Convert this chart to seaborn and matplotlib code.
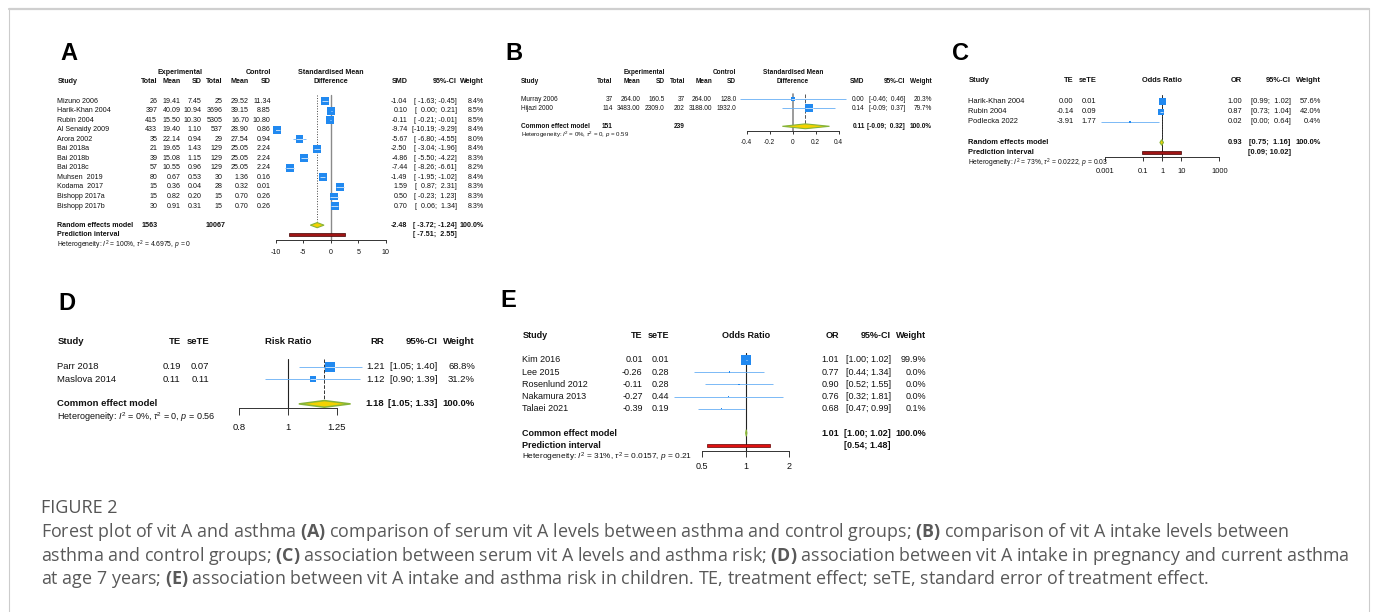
import numpy as np
import matplotlib
matplotlib.use("Agg")
import matplotlib.pyplot as plt
import matplotlib.transforms as mtransforms
from matplotlib.lines import Line2D
from matplotlib.patches import Polygon, Rectangle
from matplotlib.ticker import NullLocator
import seaborn as sns

# ---------------------------
# Data: panel A (serum vit A, SMD)
# ---------------------------
a_study = ["Mizuno 2006", "Harik-Khan 2004", "Rubin 2004", "Al Senaidy 2009", "Arora 2002",
           "Bai 2018a", "Bai 2018b", "Bai 2018c", "Muhsen  2019", "Kodama  2017",
           "Bishopp 2017a", "Bishopp 2017b"]
a_e_total = [26, 397, 415, 433, 35, 21, 39, 57, 80, 15, 15, 30]
a_e_mean = [19.41, 40.09, 15.50, 19.40, 22.14, 19.65, 15.08, 10.55, 0.67, 0.36, 0.82, 0.91]
a_e_sd = [7.45, 10.94, 10.30, 1.10, 0.94, 1.43, 1.15, 0.96, 0.53, 0.04, 0.20, 0.31]
a_c_total = [25, 3696, 5305, 537, 29, 129, 129, 129, 30, 28, 15, 15]
a_c_mean = [29.52, 39.15, 16.70, 28.90, 27.54, 25.05, 25.05, 25.05, 1.36, 0.32, 0.70, 0.70]
a_c_sd = [11.34, 8.85, 10.80, 0.86, 0.94, 2.24, 2.24, 2.24, 0.16, 0.01, 0.26, 0.26]
a_smd = [-1.04, 0.10, -0.11, -9.74, -5.67, -2.50, -4.86, -7.44, -1.49, 1.59, 0.50, 0.70]
a_lo = [-1.63, 0.00, -0.21, -10.19, -6.80, -3.04, -5.50, -8.26, -1.95, 0.87, -0.23, 0.06]
a_hi = [-0.45, 0.21, -0.01, -9.29, -4.55, -1.96, -4.22, -6.61, -1.02, 2.31, 1.23, 1.34]
a_w = [8.4, 8.5, 8.5, 8.4, 8.0, 8.4, 8.3, 8.2, 8.4, 8.3, 8.3, 8.3]
a_sum = [-2.48, -3.72, -1.24]
a_pred = [-7.51, 2.55]
a_tot = [1563, 10067]
a_het = r"Heterogeneity: $I^2$ = 100%, $\tau^2$ = 4.6975, $p$ = 0"
a_ticks = [-10, -5, 0, 5, 10]

# panel B (vit A intake, SMD)
b_study = ["Murray 2006", "Hijazi 2000"]
b_e_total = [37, 114]
b_e_mean = [264.00, 3483.00]
b_e_sd = [160.5, 2309.0]
b_c_total = [37, 202]
b_c_mean = [264.00, 3188.00]
b_c_sd = [128.0, 1932.0]
b_smd = [0.00, 0.14]
b_lo = [-0.46, -0.09]
b_hi = [0.46, 0.37]
b_w = [20.3, 79.7]
b_sum = [0.11, -0.09, 0.32]
b_tot = [151, 239]
b_het = r"Heterogeneity: $I^2$ = 0%, $\tau^2$ = 0, $p$ = 0.59"
b_ticks = [-0.4, -0.2, 0, 0.2, 0.4]

# panel C (serum vit A, OR)
c_study = ["Harik-Khan 2004", "Rubin 2004", "Podlecka 2022"]
c_te = [0.00, -0.14, -3.91]
c_sete = [0.01, 0.09, 1.77]
c_or = [1.00, 0.87, 0.02]
c_lo = [0.99, 0.73, 0.0006]
c_hi = [1.02, 1.04, 0.64]
c_w = [57.6, 42.0, 0.4]
c_sum = [0.93, 0.75, 1.16]
c_pred = [0.09, 10.02]
c_het = r"Heterogeneity: $I^2$ = 73%, $\tau^2$ = 0.0222, $p$ = 0.03"
c_ticks = [0.001, 0.1, 1, 10, 1000]
c_ticklabels = ["0.001", "0.1", "1", "10", "1000"]

# panel D (intake in pregnancy, RR)
d_study = ["Parr 2018", "Maslova 2014"]
d_te = [0.19, 0.11]
d_sete = [0.07, 0.11]
d_rr = [1.21, 1.12]
d_lo = [1.05, 0.90]
d_hi = [1.40, 1.39]
d_w = [68.8, 31.2]
d_sum = [1.18, 1.05, 1.33]
d_het = r"Heterogeneity: $I^2$ = 0%, $\tau^2$ = 0, $p$ = 0.56"
d_ticks = [0.8, 1, 1.25]
d_ticklabels = ["0.8", "1", "1.25"]

# panel E (intake in children, OR)
e_study = ["Kim 2016", "Lee 2015", "Rosenlund 2012", "Nakamura 2013", "Talaei 2021"]
e_te = [0.01, -0.26, -0.11, -0.27, -0.39]
e_sete = [0.01, 0.28, 0.28, 0.44, 0.19]
e_or = [1.01, 0.77, 0.90, 0.76, 0.68]
e_lo = [1.00, 0.44, 0.52, 0.32, 0.47]
e_hi = [1.02, 1.34, 1.55, 1.81, 0.99]
e_w = [99.9, 0.0, 0.0, 0.0, 0.1]
e_sum = [1.01, 1.00, 1.02]
e_pred = [0.54, 1.48]
e_het = r"Heterogeneity: $I^2$ = 31%, $\tau^2$ = 0.0157, $p$ = 0.21"
e_ticks = [0.5, 1, 2]
e_ticklabels = ["0.5", "1", "2"]

caption_head = "FIGURE 2"
caption_lines = [
    r"Forest plot of vit A and asthma $\mathbf{(A)}$ comparison of serum vit A levels between asthma and control groups; $\mathbf{(B)}$ comparison of vit A intake levels between",
    r"asthma and control groups; $\mathbf{(C)}$ association between serum vit A levels and asthma risk; $\mathbf{(D)}$ association between vit A intake in pregnancy and current asthma",
    r"at age 7 years; $\mathbf{(E)}$ association between vit A intake and asthma risk in children. TE, treatment effect; seTE, standard error of treatment effect.",
]

# ---------------------------
# Style
# ---------------------------
W, H = 1375, 612
sns.set_theme(style="white")
plt.rcParams["font.family"] = ["Liberation Sans", "DejaVu Sans"]
plt.rcParams["mathtext.fontset"] = "custom"
plt.rcParams["mathtext.rm"] = "Liberation Sans"
plt.rcParams["mathtext.it"] = "Liberation Sans:italic"
plt.rcParams["mathtext.bf"] = "Open Sans:bold"

BLUE = "#2189f0"
CI_BLUE = "#67aef5"
DIA_FC = "#f3d200"
DIA_EC = "#86b43a"

fig = plt.figure(figsize=(W / 100, H / 100), dpi=100)


def panel_axes(xl, xr, y0, dy, axis_row, lim, log=False, ticklen=3.3, pad=4.0, fs=5.0):
    top_row = -1.0
    top_px = y0 + top_row * dy
    bot_px = y0 + axis_row * dy
    ax = fig.add_axes([xl / W, 1 - bot_px / H, (xr - xl) / W, (bot_px - top_px) / H])
    ax.set_facecolor("none")
    if log:
        ax.set_xscale("log")
    ax.set_xlim(*lim)
    ax.set_ylim(axis_row, top_row)
    for s in ["left", "right", "top"]:
        ax.spines[s].set_visible(False)
    ax.spines["bottom"].set_color("#333333")
    ax.spines["bottom"].set_linewidth(0.7)
    ax.set_yticks([])
    ax.tick_params(axis="x", which="major", direction="out", bottom=True, length=ticklen * 0.72,
                   width=0.7, color="#333333", pad=pad, labelsize=fs, labelcolor="#111111")
    ax.tick_params(axis="x", which="minor", bottom=False)
    return ax


def set_ticks(ax, ticks, labels):
    ax.set_xticks(ticks)
    ax.set_xticklabels(labels)
    ax.xaxis.set_minor_locator(NullLocator())


def put(ax, xpx, row, s, fs, ha="right", bold=False):
    tr = mtransforms.blended_transform_factory(fig.transFigure, ax.transData)
    ax.text(xpx / W, row, s, transform=tr, ha=ha, va="center", fontsize=fs,
            fontweight="bold" if bold else "normal", color="#111111")


def draw_studies(ax, est, lo, hi, w, side_max, min_side=1.6):
    rows = np.arange(len(est))
    side = np.maximum(side_max * np.sqrt(np.asarray(w) / max(w)), min_side)
    area = (side * 0.72) ** 2
    ax.hlines(rows, lo, hi, color=CI_BLUE, lw=0.6, zorder=2, clip_on=False)
    sns.scatterplot(x=est, y=rows, size=area, sizes=(area.min(), area.max()),
                    size_norm=(area.min(), area.max()), marker="s", color=BLUE,
                    linewidth=0, legend=False, ax=ax, zorder=3, clip_on=False)
    inv = ax.transData.inverted()
    for r, e, l, h, s in zip(rows, est, lo, hi, side):
        if s < 3:
            continue
        px, py = ax.transData.transform((e, r))
        a = inv.transform((px - s / 2, py))[0]
        b = inv.transform((px + s / 2, py))[0]
        a, b = max(a, l), min(b, h)
        if b > a:
            ax.plot([a, b], [r, r], color="white", lw=0.5, zorder=4, solid_capstyle="butt")


def ref_lines(ax, null, summ, sum_row, axis_row, null_color, null_lw, sum_ls, sum_color):
    ax.plot([null, null], [-0.6, axis_row], color=null_color, lw=null_lw, zorder=1, clip_on=False)
    ax.plot([summ, summ], [-0.6, sum_row], color=sum_color, lw=0.7, ls=sum_ls, zorder=1, clip_on=False)


def diamond(ax, est, lo, hi, row, half=0.27, lw=0.8):
    ax.add_patch(Polygon([(lo, row), (est, row - half), (hi, row), (est, row + half)], closed=True,
                         fc=DIA_FC, ec=DIA_EC, lw=lw, zorder=5, clip_on=False))


def pred_bar(ax, lo, hi, row, h, fc, ec):
    ax.add_patch(Rectangle((lo, row - h / 2), hi - lo, h, fc=fc, ec=ec, lw=0.5, zorder=5, clip_on=False))


def ci_txt(lo, hi, wl=5, wh=5):
    return "[" + f"{lo:{wl}.2f}" + "; " + f"{hi:{wh}.2f}" + "]"


# ---------------------------
# Panel A
# ---------------------------
fs = 5.1
dy = 9.55
axA = panel_axes(275.7, 386.0, 101.0, dy, 14.55, (-10, 10), ticklen=3.3, pad=4.0, fs=fs)
set_ticks(axA, a_ticks, [str(t) for t in a_ticks])
ref_lines(axA, 0, a_sum[0], 13, 14.55, "#8a8a8a", 1.0, ":", "#444444")
draw_studies(axA, a_smd, a_lo, a_hi, a_w, 7.9)
diamond(axA, a_sum[0], a_sum[1], a_sum[2], 13)
pred_bar(axA, a_pred[0], a_pred[1], 14, 2.6 / dy, "#a01515", "#400000")
cols = [157.3, 180.7, 202.0, 222.7, 249.0, 270.7]
put(axA, 202.0, -3, "Experimental", fs, bold=True)
put(axA, 270.7, -3, "Control", fs, bold=True)
axA.text(0, -3, "Standardised Mean", ha="center", va="center", fontsize=fs, fontweight="bold", color="#111111")
axA.text(0, -2, "Difference", ha="center", va="center", fontsize=fs, fontweight="bold", color="#111111")
put(axA, 57.3, -2, "Study", fs, ha="left", bold=True)
for x, s in zip(cols, ["Total", "Mean", "SD", "Total", "Mean", "SD"]):
    put(axA, x, -2, s, fs, bold=True)
put(axA, 407.5, -2, "SMD", fs, bold=True)
put(axA, 456.7, -2, "95%-CI", fs, bold=True)
put(axA, 484.0, -2, "Weight", fs, bold=True)
for i in range(len(a_study)):
    put(axA, 57.3, i, a_study[i], fs, ha="left")
    vals = [f"{a_e_total[i]}", f"{a_e_mean[i]:.2f}", f"{a_e_sd[i]:.2f}",
            f"{a_c_total[i]}", f"{a_c_mean[i]:.2f}", f"{a_c_sd[i]:.2f}"]
    for x, s in zip(cols, vals):
        put(axA, x, i, s, fs)
    put(axA, 407.5, i, f"{a_smd[i]:.2f}", fs)
    put(axA, 456.7, i, ci_txt(a_lo[i], a_hi[i], 6, 5), fs)
    put(axA, 484.0, i, f"{a_w[i]:.1f}%", fs)
put(axA, 57.3, 13, "Random effects model", fs, ha="left", bold=True)
put(axA, cols[0], 13, f"{a_tot[0]}", fs, bold=True)
put(axA, cols[3] + 3, 13, f"{a_tot[1]}", fs, bold=True)
put(axA, 407.5, 13, f"{a_sum[0]:.2f}", fs, bold=True)
put(axA, 456.7, 13, ci_txt(a_sum[1], a_sum[2], 6, 5), fs, bold=True)
put(axA, 484.0, 13, "100.0%", fs, bold=True)
put(axA, 57.3, 14, "Prediction interval", fs, ha="left", bold=True)
put(axA, 456.7, 14, ci_txt(a_pred[0], a_pred[1], 6, 5), fs, bold=True)
put(axA, 57.3, 15.08, a_het, fs * 0.95, ha="left")

# ---------------------------
# Panel B
# ---------------------------
fs = 4.7
dy = 9.0
axB = panel_axes(746.7, 838.7, 99.3, dy, 3.52, (-0.4, 0.4), ticklen=3.0, pad=3.8, fs=fs)
set_ticks(axB, b_ticks, ["-0.4", "-0.2", "0", "0.2", "0.4"])
ref_lines(axB, 0, b_sum[0], 3, 3.52, "#8a8a8a", 1.2, "--", "#555555")
draw_studies(axB, b_smd, b_lo, b_hi, b_w, 7.7)
diamond(axB, b_sum[0], b_sum[1], b_sum[2], 3)
cols = [612.7, 640.3, 664.7, 685.0, 712.0, 736.3]
put(axB, 664.7, -3, "Experimental", fs, bold=True)
put(axB, 736.3, -3, "Control", fs, bold=True)
axB.text(0, -3, "Standardised Mean", ha="center", va="center", fontsize=fs, fontweight="bold", color="#111111")
axB.text(0, -2, "Difference", ha="center", va="center", fontsize=fs, fontweight="bold", color="#111111")
put(axB, 521.0, -2, "Study", fs, ha="left", bold=True)
for x, s in zip(cols, ["Total", "Mean", "SD", "Total", "Mean", "SD"]):
    put(axB, x, -2, s, fs, bold=True)
put(axB, 864.7, -2, "SMD", fs, bold=True)
put(axB, 905.0, -2, "95%-CI", fs, bold=True)
put(axB, 931.7, -2, "Weight", fs, bold=True)
for i in range(len(b_study)):
    put(axB, 521.0, i, b_study[i], fs, ha="left")
    vals = [f"{b_e_total[i]}", f"{b_e_mean[i]:.2f}", f"{b_e_sd[i]:.1f}",
            f"{b_c_total[i]}", f"{b_c_mean[i]:.2f}", f"{b_c_sd[i]:.1f}"]
    for x, s in zip(cols, vals):
        put(axB, x, i, s, fs)
    put(axB, 864.7, i, f"{b_smd[i]:.2f}", fs)
    put(axB, 905.0, i, ci_txt(b_lo[i], b_hi[i]), fs)
    put(axB, 931.7, i, f"{b_w[i]:.1f}%", fs)
put(axB, 521.0, 3, "Common effect model", fs, ha="left", bold=True)
put(axB, cols[0], 3, f"{b_tot[0]}", fs, bold=True)
put(axB, cols[3], 3, f"{b_tot[1]}", fs, bold=True)
put(axB, 864.7, 3, f"{b_sum[0]:.2f}", fs, bold=True)
put(axB, 905.0, 3, ci_txt(b_sum[1], b_sum[2]), fs, bold=True)
put(axB, 931.7, 3, "100.0%", fs, bold=True)
put(axB, 521.0, 4, b_het, fs * 0.95, ha="left")

# ---------------------------
# Panel C
# ---------------------------
fs = 5.4
dy = 10.3
axC = panel_axes(1105.3, 1219.3, 101.3, dy, 5.36, (0.001, 1000), log=True, ticklen=4.0, pad=5.6, fs=fs)
set_ticks(axC, c_ticks, c_ticklabels)
ref_lines(axC, 1, c_sum[0], 4, 5.36, "#222222", 0.7, ":", "#444444")
draw_studies(axC, c_or, c_lo, c_hi, c_w, 7.2)
diamond(axC, c_sum[0], c_sum[1], c_sum[2], 4)
pred_bar(axC, c_pred[0], c_pred[1], 5, 2.8 / dy, "#a01515", "#400000")
axC.text(1, -2, "Odds Ratio", ha="center", va="center", fontsize=fs, fontweight="bold", color="#111111")
put(axC, 968.3, -2, "Study", fs, ha="left", bold=True)
put(axC, 1073.7, -2, "TE", fs, bold=True)
put(axC, 1096.7, -2, "seTE", fs, bold=True)
put(axC, 1242.0, -2, "OR", fs, bold=True)
put(axC, 1290.7, -2, "95%-CI", fs, bold=True)
put(axC, 1321.0, -2, "Weight", fs, bold=True)
for i in range(len(c_study)):
    put(axC, 968.3, i, c_study[i], fs, ha="left")
    put(axC, 1073.7, i, f"{c_te[i]:.2f}", fs)
    put(axC, 1096.7, i, f"{c_sete[i]:.2f}", fs)
    put(axC, 1242.0, i, f"{c_or[i]:.2f}", fs)
    put(axC, 1290.7, i, ci_txt(c_lo[i], c_hi[i], 4, 5), fs)
    put(axC, 1321.0, i, f"{c_w[i]:.1f}%", fs)
put(axC, 968.3, 4, "Random effects model", fs, ha="left", bold=True)
put(axC, 1242.0, 4, f"{c_sum[0]:.2f}", fs, bold=True)
put(axC, 1290.7, 4, ci_txt(c_sum[1], c_sum[2], 4, 5), fs, bold=True)
put(axC, 1321.0, 4, "100.0%", fs, bold=True)
put(axC, 968.3, 5, "Prediction interval", fs, ha="left", bold=True)
put(axC, 1290.7, 5, ci_txt(c_pred[0], c_pred[1], 4, 5), fs, bold=True)
put(axC, 968.3, 6.05, c_het, fs * 0.9, ha="left")

# ---------------------------
# Panel D
# ---------------------------
fs = 6.8
dy = 12.4
axD = panel_axes(239.3, 337.0, 366.7, dy, 3.35, (0.8, 1.25), log=True, ticklen=7.0, pad=5.4, fs=fs)
set_ticks(axD, d_ticks, d_ticklabels)
ref_lines(axD, 1, d_sum[0], 3, 3.35, "#222222", 0.8, "--", "#333333")
draw_studies(axD, d_rr, d_lo, d_hi, d_w, 9.7)
diamond(axD, d_sum[0], d_sum[1], d_sum[2], 3, lw=1.1)
axD.text(1, -2, "Risk Ratio", ha="center", va="center", fontsize=fs, fontweight="bold", color="#111111")
put(axD, 57.3, -2, "Study", fs, ha="left", bold=True)
put(axD, 180.7, -2, "TE", fs, bold=True)
put(axD, 209.3, -2, "seTE", fs, bold=True)
put(axD, 384.3, -2, "RR", fs, bold=True)
put(axD, 437.7, -2, "95%-CI", fs, bold=True)
put(axD, 475.0, -2, "Weight", fs, bold=True)
for i in range(len(d_study)):
    put(axD, 57.3, i, d_study[i], fs, ha="left")
    put(axD, 180.7, i, f"{d_te[i]:.2f}", fs)
    put(axD, 209.3, i, f"{d_sete[i]:.2f}", fs)
    put(axD, 384.3, i, f"{d_rr[i]:.2f}", fs)
    put(axD, 437.7, i, ci_txt(d_lo[i], d_hi[i], 4, 4), fs)
    put(axD, 475.0, i, f"{d_w[i]:.1f}%", fs)
put(axD, 57.3, 3, "Common effect model", fs, ha="left", bold=True)
put(axD, 384.3, 3, f"{d_sum[0]:.2f}", fs, bold=True)
put(axD, 437.7, 3, ci_txt(d_sum[1], d_sum[2], 4, 4), fs, bold=True)
put(axD, 475.0, 3, "100.0%", fs, bold=True)
put(axD, 57.3, 4.1, d_het, fs * 0.95, ha="left")

# ---------------------------
# Panel E
# ---------------------------
fs = 6.5
dy = 12.17
axE = panel_axes(702.3, 789.0, 360.0, dy, 7.45, (0.5, 2), log=True, ticklen=5.5, pad=4.5, fs=fs)
set_ticks(axE, e_ticks, e_ticklabels)
ref_lines(axE, 1, e_sum[0], 6, 7.45, "#222222", 0.8, "--", "#222222")
draw_studies(axE, e_or, e_lo, e_hi, e_w, 10.0)
diamond(axE, e_sum[0], e_sum[1], e_sum[2], 6)
pred_bar(axE, e_pred[0], e_pred[1], 7, 3.0 / dy, "#e01010", "#600000")
axE.text(1, -2, "Odds Ratio", ha="center", va="center", fontsize=fs, fontweight="bold", color="#111111")
put(axE, 522.3, -2, "Study", fs, ha="left", bold=True)
put(axE, 642.7, -2, "TE", fs, bold=True)
put(axE, 669.3, -2, "seTE", fs, bold=True)
put(axE, 839.3, -2, "OR", fs, bold=True)
put(axE, 890.7, -2, "95%-CI", fs, bold=True)
put(axE, 926.0, -2, "Weight", fs, bold=True)
for i in range(len(e_study)):
    put(axE, 522.3, i, e_study[i], fs, ha="left")
    put(axE, 642.7, i, f"{e_te[i]:.2f}", fs)
    put(axE, 669.3, i, f"{e_sete[i]:.2f}", fs)
    put(axE, 839.3, i, f"{e_or[i]:.2f}", fs)
    put(axE, 890.7, i, ci_txt(e_lo[i], e_hi[i], 4, 4), fs)
    put(axE, 926.0, i, f"{e_w[i]:.1f}%", fs)
put(axE, 522.3, 6, "Common effect model", fs, ha="left", bold=True)
put(axE, 839.3, 6, f"{e_sum[0]:.2f}", fs, bold=True)
put(axE, 890.7, 6, ci_txt(e_sum[1], e_sum[2], 4, 4), fs, bold=True)
put(axE, 926.0, 6, "100.0%", fs, bold=True)
put(axE, 522.3, 7, "Prediction interval", fs, ha="left", bold=True)
put(axE, 890.7, 7, ci_txt(e_pred[0], e_pred[1], 4, 4), fs, bold=True)
put(axE, 522.3, 8, e_het, fs * 0.92, ha="left")

# ---------------------------
# Panel letters, caption, frame
# ---------------------------
for lab, x, y in [("A", 60, 53.5), ("B", 505, 53.5), ("C", 952, 53.5), ("D", 58, 303.5), ("E", 500, 300.5)]:
    fig.text(x / W, 1 - y / H, lab, fontsize=17, fontweight="bold", color="black", va="center", ha="left")

cap_font = ["Open Sans", "DejaVu Sans"]
fig.text(41 / W, 1 - 508 / H, caption_head, fontsize=13, color="#555555", family=cap_font,
         va="center", ha="left")
for line, y in zip(caption_lines, [532, 556, 579]):
    fig.text(41 / W, 1 - y / H, line, fontsize=12.9, color="#595959", family=cap_font, va="center", ha="left")

fig.add_artist(Line2D([9 / W, 9 / W], [0, 1 - 8 / H], transform=fig.transFigure, color="#cccccc", lw=0.8))
fig.add_artist(Line2D([1369 / W, 1369 / W], [0, 1 - 8 / H], transform=fig.transFigure, color="#cccccc", lw=0.8))
fig.add_artist(Line2D([9 / W, 1369 / W], [1 - 8.5 / H, 1 - 8.5 / H], transform=fig.transFigure, color="#cfcfcf", lw=1.6))

fig.savefig("out.png", dpi=100, facecolor="white")
